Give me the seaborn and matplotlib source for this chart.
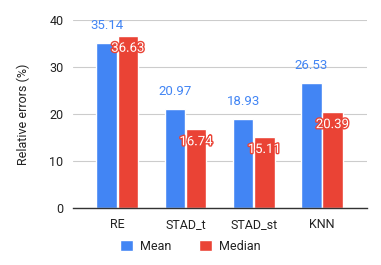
import matplotlib
matplotlib.use("Agg")
import matplotlib.pyplot as plt
import matplotlib.patheffects as pe
from matplotlib.patches import Patch
import seaborn as sns
import pandas as pd

categories = ["RE", "STAD_t", "STAD_st", "KNN"]
mean_vals = [35.14, 20.97, 18.93, 26.53]
median_vals = [36.63, 16.74, 15.11, 20.39]
series = ["Mean", "Median"]
yticks = [0, 10, 20, 30, 40]

BLUE = "#4285F4"
RED = "#EA4335"

df = pd.DataFrame({
    "cat": categories * 2,
    "val": mean_vals + median_vals,
    "series": ["Mean"] * len(categories) + ["Median"] * len(categories),
})

sns.set_theme(style="white")
plt.rcParams["font.family"] = ["Roboto", "DejaVu Sans"]

fig = plt.figure(figsize=(3.81, 2.65), dpi=100)
ax = fig.add_axes([0.192, 0.215, 0.771, 0.71])

sns.barplot(data=df, x="cat", y="val", hue="series", palette=[BLUE, RED],
            width=0.62, gap=0.03, ax=ax, legend=False, saturation=1)

ax.set_ylim(0, 40)
ax.set_yticks(yticks)
ax.set_yticklabels([str(t) for t in yticks])
ax.yaxis.grid(True, color="#cccccc", linewidth=0.8)
ax.set_axisbelow(True)
for s in ["top", "right", "left"]:
    ax.spines[s].set_visible(False)
ax.spines["bottom"].set_color("#333333")
ax.spines["bottom"].set_linewidth(1.0)
ax.tick_params(axis="both", length=0, labelsize=9, colors="#222222", pad=7)
ax.set_xlabel("")
ax.set_ylabel("Relative errors (%)", fontsize=9, color="#222222", labelpad=14)
ax.set_xlim(-0.647, 3.66)

conts = ax.containers
for bar, v in zip(conts[0], mean_vals):
    ax.annotate(f"{v:.2f}", (bar.get_x() + bar.get_width() / 2, bar.get_height()),
                xytext=(0, 8), textcoords="offset points", ha="center", va="bottom",
                fontsize=9.5, color=BLUE)
for bar, v in zip(conts[1], median_vals):
    ax.annotate(f"{v:.2f}", (bar.get_x() + bar.get_width() / 2, bar.get_height()),
                xytext=(0, -9), textcoords="offset points", ha="center", va="center",
                fontsize=9.5, color="white",
                path_effects=[pe.withStroke(linewidth=2, foreground=RED)])

handles = [Patch(facecolor=BLUE, label="Mean"), Patch(facecolor=RED, label="Median")]
fig.legend(handles=handles, loc="center", bbox_to_anchor=(0.5, 1 - 246 / 265),
           ncol=2, frameon=False, fontsize=9, handlelength=1.0, handleheight=1.0,
           handletextpad=0.6, columnspacing=2.2, labelcolor="#222222")

fig.savefig("out.png", dpi=100)
